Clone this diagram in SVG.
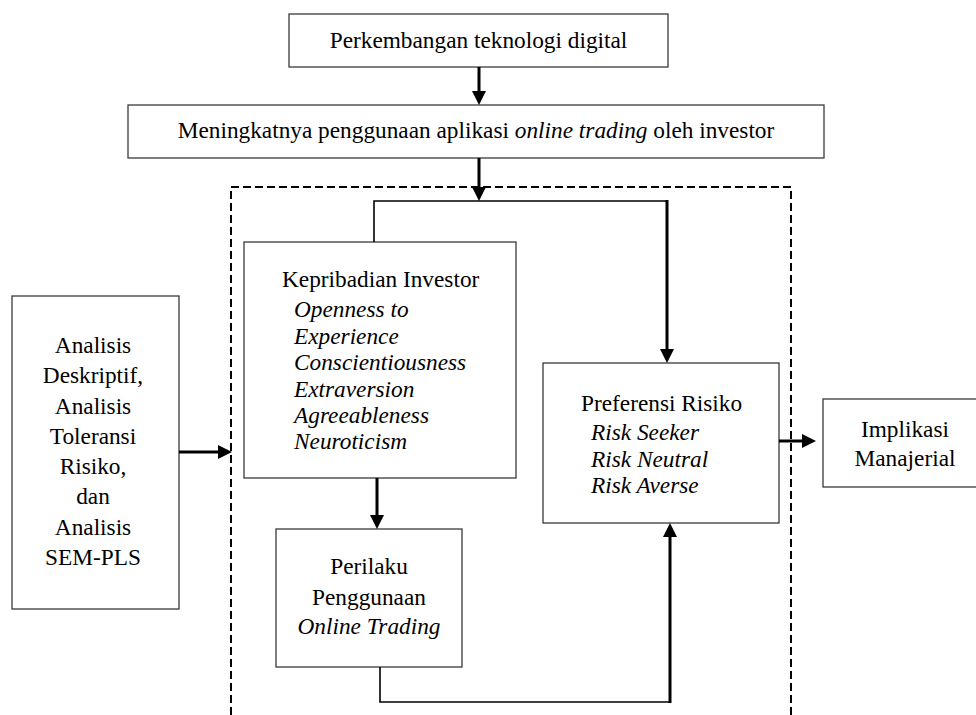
<svg xmlns="http://www.w3.org/2000/svg" width="976" height="715" viewBox="0 0 976 715">
<style>
.box{fill:#fff;stroke:#3a3a3a;stroke-width:1.3}
.t{font-family:"Liberation Serif","Times New Roman",serif;font-size:23.3px;fill:#000}
.c{text-anchor:middle}
.i{font-style:italic}
.thin{fill:none;stroke:#000;stroke-width:1.6}
.thick{fill:none;stroke:#000;stroke-width:3}
.dash{fill:none;stroke:#000;stroke-width:2;stroke-dasharray:8 4}
</style>
<defs>
<marker id="ah" markerUnits="userSpaceOnUse" markerWidth="16" markerHeight="16" refX="5" refY="7" orient="auto">
<path d="M0,0 L14,7 L0,14 z" fill="#000"/>
</marker>
</defs>
<rect width="976" height="715" fill="#fff"/>
<g id="frame">
<path class="dash" d="M231,715 V187 H791 V715"/>
</g>
<g id="n1">
<rect class="box" x="289" y="14" width="379" height="53"/>
<text class="t c" x="478.5" y="48">Perkembangan teknologi digital</text>
</g>
<g id="n2">
<rect class="box" x="128" y="105" width="696" height="53"/>
<text class="t c" x="476" y="138">Meningkatnya penggunaan aplikasi <tspan class="i">online trading</tspan> oleh investor</text>
</g>
<g id="n3">
<rect class="box" x="244" y="242" width="272" height="236"/>
<text class="t" x="282" y="287">Kepribadian Investor</text>
<text class="t i" x="294" y="317">Openness to</text>
<text class="t i" x="294" y="344">Experience</text>
<text class="t i" x="294" y="370">Conscientiousness</text>
<text class="t i" x="294" y="397">Extraversion</text>
<text class="t i" x="294" y="423">Agreeableness</text>
<text class="t i" x="294" y="449">Neuroticism</text>
</g>
<g id="n4">
<rect class="box" x="12" y="296" width="167" height="313"/>
<text class="t c" x="93" y="353">Analisis</text>
<text class="t c" x="93" y="383">Deskriptif,</text>
<text class="t c" x="93" y="414">Analisis</text>
<text class="t c" x="93" y="444">Toleransi</text>
<text class="t c" x="93" y="474">Risiko,</text>
<text class="t c" x="93" y="504">dan</text>
<text class="t c" x="93" y="535">Analisis</text>
<text class="t c" x="93" y="565">SEM-PLS</text>
</g>
<g id="n5">
<rect class="box" x="543" y="363" width="236" height="160"/>
<text class="t" x="581" y="411">Preferensi Risiko</text>
<text class="t i" x="591" y="440">Risk Seeker</text>
<text class="t i" x="591" y="467">Risk Neutral</text>
<text class="t i" x="591" y="493">Risk Averse</text>
</g>
<g id="n6">
<rect class="box" x="823" y="399" width="170" height="88"/>
<text class="t c" x="905" y="437">Implikasi</text>
<text class="t c" x="905" y="466">Manajerial</text>
</g>
<g id="n7">
<rect class="box" x="276" y="529" width="186" height="138"/>
<text class="t c" x="369" y="574">Perilaku</text>
<text class="t c" x="369" y="605">Penggunaan</text>
<text class="t c i" x="369" y="634">Online Trading</text>
</g>
<g id="connectors">
<line class="thick" x1="479" y1="67" x2="479" y2="96" marker-end="url(#ah)"/>
<line class="thick" x1="479" y1="158" x2="479" y2="192" marker-end="url(#ah)"/>
<path class="thin" d="M374,242 V201 H667"/>
<line class="thick" x1="667" y1="200" x2="667" y2="354" marker-end="url(#ah)"/>
<line class="thick" x1="377" y1="478" x2="377" y2="520" marker-end="url(#ah)"/>
<line class="thick" x1="179" y1="452" x2="223" y2="452" marker-end="url(#ah)"/>
<line class="thick" x1="779" y1="441" x2="807" y2="441" marker-end="url(#ah)"/>
<path class="thin" d="M380,667 V702 H670"/>
<line class="thick" x1="670" y1="703" x2="670" y2="532" marker-end="url(#ah)"/>
</g>
</svg>
